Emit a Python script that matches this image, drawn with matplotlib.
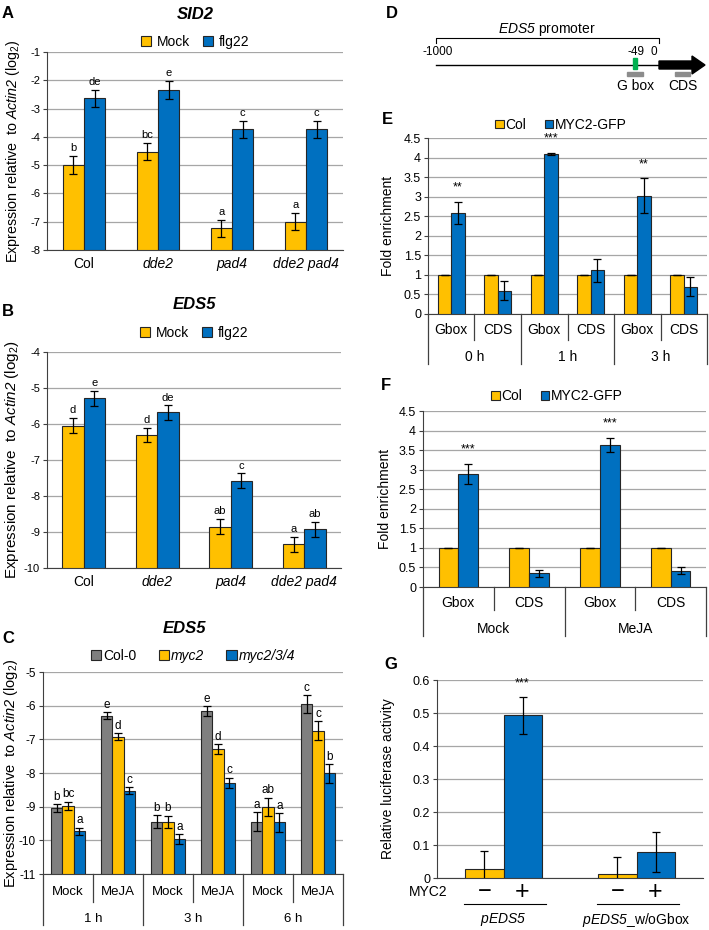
import numpy as np
import matplotlib
matplotlib.use('Agg')
import matplotlib.pyplot as plt
from matplotlib import transforms
from matplotlib.patches import Rectangle

plt.rcParams['font.family'] = ['Liberation Sans', 'DejaVu Sans']
plt.rcParams['mathtext.fontset'] = 'custom'
plt.rcParams['mathtext.rm'] = 'Liberation Sans'
plt.rcParams['mathtext.it'] = 'Liberation Sans:italic'
plt.rcParams['mathtext.sf'] = 'Liberation Sans:italic'
plt.rcParams['mathtext.bf'] = 'Liberation Sans:bold'
plt.rcParams['axes.unicode_minus'] = False

YEL = '#FFC000'
BLU = '#0070C0'
GRY = '#7F7F7F'
EDGE = '#262626'
AXC = '#404040'
GRID = '#A6A6A6'

# ---- data ----
genotypes = ['Col', 'dde2', 'pad4', 'dde2 pad4']

sid2_mock = [-4.99, -4.52, -7.23, -7.0]
sid2_mock_err = [0.32, 0.31, 0.3, 0.31]
sid2_flg = [-2.64, -2.34, -3.73, -3.73]
sid2_flg_err = [0.31, 0.31, 0.3, 0.3]
sid2_let_mock = ['b', 'bc', 'a', 'a']
sid2_let_flg = ['de', 'e', 'c', 'c']

eds5_mock = [-6.05, -6.30, -8.85, -9.34]
eds5_mock_err = [0.21, 0.2, 0.21, 0.21]
eds5_flg = [-5.29, -5.68, -7.57, -8.93]
eds5_flg_err = [0.2, 0.2, 0.2, 0.21]
eds5_let_mock = ['d', 'd', 'ab', 'a']
eds5_let_flg = ['e', 'de', 'c', 'ab']

c_treat = ['Mock', 'MeJA', 'Mock', 'MeJA', 'Mock', 'MeJA']
c_time = ['1 h', '3 h', '6 h']
c_col0 = [-9.05, -6.30, -9.45, -6.16, -9.45, -5.96]
c_col0_err = [0.12, 0.1, 0.19, 0.15, 0.28, 0.27]
c_myc2 = [-8.97, -6.92, -9.45, -7.29, -9.0, -6.74]
c_myc2_err = [0.12, 0.1, 0.18, 0.15, 0.27, 0.27]
c_myc234 = [-9.73, -8.53, -9.97, -8.29, -9.47, -8.01]
c_myc234_err = [0.11, 0.1, 0.15, 0.15, 0.28, 0.28]
c_let_col0 = ['b', 'e', 'b', 'e', 'a', 'c']
c_let_myc2 = ['bc', 'd', 'b', 'd', 'ab', 'c']
c_let_myc234 = ['a', 'c', 'a', 'c', 'a', 'b']

e_region = ['Gbox', 'CDS', 'Gbox', 'CDS', 'Gbox', 'CDS']
e_time = ['0 h', '1 h', '3 h']
e_col = [1, 1, 1, 1, 1, 1]
e_myc = [2.59, 0.60, 4.09, 1.12, 3.02, 0.70]
e_myc_err = [0.28, 0.24, 0.02, 0.29, 0.45, 0.24]
e_stars = ['**', '', '***', '', '**', '']

f_region = ['Gbox', 'CDS', 'Gbox', 'CDS']
f_treat = ['Mock', 'MeJA']
f_col = [1, 1, 1, 1]
f_myc = [2.89, 0.35, 3.63, 0.42]
f_myc_err = [0.26, 0.085, 0.19, 0.1]
f_stars = ['***', '', '***', '']

g_construct = ['$\\mathsf{pEDS5}$', '$\\mathsf{pEDS5}$_w/oGbox']
g_minus = [0.028, 0.012]
g_minus_err = [0.054, 0.053]
g_plus = [0.493, 0.078]
g_plus_err = [0.057, 0.06]
g_stars = ['***', '']

W, H = 709, 930
fig = plt.figure(figsize=(W / 100, H / 100), dpi=100)


def px_axes(l, t, r, b):
    return fig.add_axes([l / W, 1 - b / H, (r - l) / W, (b - t) / H])


def style(ax, ymin, ymax, step, tick_fs=8):
    ax.set_ylim(ymin, ymax)
    ax.set_yticks(np.arange(ymin, ymax + step / 2, step))
    ax.yaxis.grid(True, color=GRID, lw=0.9)
    ax.set_axisbelow(True)
    for s in ['top', 'right']:
        ax.spines[s].set_visible(False)
    ax.spines['left'].set_color(AXC)
    ax.spines['bottom'].set_color(AXC)
    ax.tick_params(axis='y', direction='out', length=3, color=AXC, labelsize=tick_fs, pad=2)
    ax.tick_params(axis='x', length=0)


def bars(ax, x, vals, errs, base, color, label, w, letters=None, fs=8, off=2):
    ax.bar(x, np.array(vals) - base, w, bottom=base, color=color, edgecolor=EDGE,
           lw=0.8, label=label, zorder=3)
    ax.errorbar(x, vals, yerr=errs, fmt='none', ecolor='black', elinewidth=0.9,
                capsize=3, capthick=0.9, zorder=4)
    if letters:
        for xi, v, e, t in zip(x, vals, errs, letters):
            if t:
                ax.annotate(t, (xi, v + e), xytext=(0, off), textcoords='offset points',
                            ha='center', va='bottom', fontsize=fs)


def group_axis(ax, inner, outer, per, short, long, y_in, y_out, fs=10):
    tr = transforms.blended_transform_factory(ax.transData, ax.transAxes)
    n = len(inner)
    for i, lab in enumerate(inner):
        ax.text(i, y_in, lab, transform=tr, ha='center', va='center', fontsize=fs)
    for j, lab in enumerate(outer):
        ax.text(j * per + (per - 1) / 2, y_out, lab, transform=tr, ha='center',
                va='center', fontsize=fs)
    for i in range(n + 1):
        L = long if i % per == 0 else short
        ax.plot([i - 0.5, i - 0.5], [0, -L], transform=tr, clip_on=False,
                color=AXC, lw=0.9)
    ax.set_xlim(-0.5, n - 0.5)
    ax.set_xticks([])


ylab = 'Expression relative  to $\\mathsf{Actin2}$ (log$_2$)'


def ab_panel(ax, mock, mock_err, flg, flg_err, lm, lf, ymin, ymax, title, ty, ly, labx, labfs):
    x = np.arange(len(genotypes))
    w = 0.29
    bars(ax, x - w / 2, mock, mock_err, ymin, YEL, 'Mock', w, lm)
    bars(ax, x + w / 2, flg, flg_err, ymin, BLU, 'flg22', w, lf)
    style(ax, ymin, ymax, 1)
    ax.set_xlim(-0.5, len(genotypes) - 0.5)
    ax.set_xticks(x)
    ax.set_xticklabels(genotypes, fontsize=10)
    for t in ax.get_xticklabels()[1:]:
        t.set_style('italic')
    ax.tick_params(axis='x', pad=5)
    ax.set_ylabel(ylab, fontsize=labfs)
    ax.yaxis.set_label_coords(labx, 0.5)
    ax.text(0.5, ty, title, transform=ax.transAxes, ha='center', va='center',
            fontsize=12, fontweight='bold', style='italic')
    ax.legend(loc='center', bbox_to_anchor=(0.5, ly), ncol=2, frameon=False,
              fontsize=10, handlelength=0.75, handleheight=0.75, handletextpad=0.4,
              columnspacing=0.9, borderaxespad=0)


# ---- A ----
axA = px_axes(47, 52, 343, 250)
ab_panel(axA, sid2_mock, sid2_mock_err, sid2_flg, sid2_flg_err, sid2_let_mock,
         sid2_let_flg, -8, -1, 'SID2', 1.19, 1.05, -0.085, 10.3)

# ---- B ----
axB = px_axes(47, 352, 341, 568)
ab_panel(axB, eds5_mock, eds5_mock_err, eds5_flg, eds5_flg_err, eds5_let_mock,
         eds5_let_flg, -10, -4, 'EDS5', 1.22, 1.088, -0.09, 11)

# ---- C ----
axC = px_axes(43, 672, 343, 874)
xc = np.arange(len(c_treat))
wc = 0.226
bars(axC, xc - wc, c_col0, c_col0_err, -11, GRY, 'Col-0', wc, c_let_col0, fs=8.5, off=1)
bars(axC, xc, c_myc2, c_myc2_err, -11, YEL, 'myc2', wc, c_let_myc2, fs=8.5, off=1)
bars(axC, xc + wc, c_myc234, c_myc234_err, -11, BLU, 'myc2/3/4', wc, c_let_myc234, fs=8.5, off=1)
style(axC, -11, -5, 1, tick_fs=8.5)
group_axis(axC, c_treat, c_time, 2, 0.139, 0.25, -0.089, -0.223, fs=9.5)
axC.set_ylabel(ylab, fontsize=10.5)
axC.yaxis.set_label_coords(-0.077, 0.5)
axC.text(0.47, 1.213, 'EDS5', transform=axC.transAxes, ha='center', va='center',
         fontsize=12, fontweight='bold', style='italic')
legC = axC.legend(loc='center', bbox_to_anchor=(0.5, 1.079), ncol=3, frameon=False,
                  fontsize=10, handlelength=0.75, handleheight=0.75, handletextpad=0.15,
                  columnspacing=1.6, borderaxespad=0)
for t in legC.get_texts()[1:]:
    t.set_style('italic')

# ---- E ----
axE = px_axes(428, 138, 707, 314)
xe = np.arange(len(e_region))
we = 0.29
bars(axE, xe - we / 2, e_col, [0] * 6, 0, YEL, 'Col', we)
bars(axE, xe + we / 2, e_myc, e_myc_err, 0, BLU, 'MYC2-GFP', we, e_stars, fs=9, off=6)
style(axE, 0, 4.5, 0.5, tick_fs=9)
axE.set_yticklabels(['0', '0.5', '1', '1.5', '2', '2.5', '3', '3.5', '4', '4.5'])
group_axis(axE, e_region, e_time, 2, 0.148, 0.284, -0.091, -0.244, fs=10)
axE.set_ylabel('Fold enrichment', fontsize=10)
axE.yaxis.set_label_coords(-0.118, 0.5)
axE.legend(loc='center', bbox_to_anchor=(0.477, 1.074), ncol=2, frameon=False,
           fontsize=10, handlelength=0.6, handleheight=0.6, handletextpad=0.15,
           columnspacing=1.3, borderaxespad=0)

# ---- F ----
axF = px_axes(423, 411, 706, 587)
xf = np.arange(len(f_region))
wf = 0.28
bars(axF, xf - wf / 2, f_col, [0] * 4, 0, YEL, 'Col', wf)
bars(axF, xf + wf / 2, f_myc, f_myc_err, 0, BLU, 'MYC2-GFP', wf, f_stars, fs=9, off=6)
style(axF, 0, 4.5, 0.5, tick_fs=9)
axF.set_yticklabels(['0', '0.5', '1', '1.5', '2', '2.5', '3', '3.5', '4', '4.5'])
group_axis(axF, f_region, f_treat, 2, 0.13, 0.278, -0.091, -0.239, fs=10)
axF.set_ylabel('Fold enrichment', fontsize=10)
axF.yaxis.set_label_coords(-0.11, 0.5)
axF.legend(loc='center', bbox_to_anchor=(0.474, 1.085), ncol=2, frameon=False,
           fontsize=10, handlelength=0.6, handleheight=0.6, handletextpad=0.15,
           columnspacing=1.3, borderaxespad=0)

# ---- G ----
axG = px_axes(437, 680, 703, 878)
xg = np.arange(len(g_construct))
wg = 0.286
bars(axG, xg - wg / 2, g_minus, g_minus_err, 0, YEL, '', wg)
bars(axG, xg + wg / 2, g_plus, g_plus_err, 0, BLU, '', wg, g_stars, fs=9, off=5)
style(axG, 0, 0.6, 0.1, tick_fs=9)
axG.set_yticklabels(['0', '0.1', '0.2', '0.3', '0.4', '0.5', '0.6'])
axG.set_xlim(-0.5, 1.5)
axG.set_xticks([])
axG.set_ylabel('Relative luciferase activity', fontsize=10)
axG.yaxis.set_label_coords(-0.158, 0.5)
trG = transforms.blended_transform_factory(axG.transData, axG.transAxes)
axG.text(-0.034, -0.072, 'MYC2', transform=axG.transAxes, ha='center', va='center', fontsize=10)
for xi, lab in zip(xg, g_construct):
    axG.text(xi - wg / 2, -0.072, '\u2212', transform=trG, ha='center', va='center', fontsize=17)
    axG.text(xi + wg / 2, -0.072, '+', transform=trG, ha='center', va='center', fontsize=18)
    axG.plot([xi - 0.3, xi + 0.32], [-0.131, -0.131], transform=trG, clip_on=False,
             color='black', lw=0.8)
    axG.text(xi, -0.212, lab, transform=trG, ha='center', va='center', fontsize=10)

# ---- overlay: panel letters and D schematic (pixel coordinates) ----
ov = fig.add_axes([0, 0, 1, 1], zorder=-1)
ov.set_xlim(0, W)
ov.set_ylim(H, 0)
ov.axis('off')
for lab, (lx, ly) in {'A': (8, 13), 'B': (8, 311), 'C': (8, 638), 'D': (392, 13),
                      'E': (387, 120), 'F': (386, 385), 'G': (391, 664)}.items():
    ov.text(lx, ly, lab, ha='center', va='center', fontsize=12, fontweight='bold')

ov.text(547, 29, '$\\mathsf{EDS5}$ promoter', ha='center', va='center', fontsize=10)
ov.plot([436, 436, 659, 659], [43, 38, 38, 43], color='black', lw=0.8)
ov.text(438, 52, '-1000', ha='center', va='center', fontsize=8.5)
ov.text(636, 52, '-49', ha='center', va='center', fontsize=8.5)
ov.text(654, 52, '0', ha='center', va='center', fontsize=8.5)
ov.plot([436, 660], [65, 65], color='black', lw=1)
ov.add_patch(Rectangle((632.5, 58), 4, 11, color='#00B050', zorder=3))
ov.arrow(659, 65, 46, 0, width=8, head_width=18, head_length=13,
         length_includes_head=True, color='black')
ov.add_patch(Rectangle((627, 72), 16, 4, color='#8C8C8C'))
ov.add_patch(Rectangle((675, 72), 15, 4, color='#8C8C8C'))
ov.text(636, 86, 'G box', ha='center', va='center', fontsize=10)
ov.text(683, 86, 'CDS', ha='center', va='center', fontsize=10)

fig.savefig('out.png', dpi=100)
